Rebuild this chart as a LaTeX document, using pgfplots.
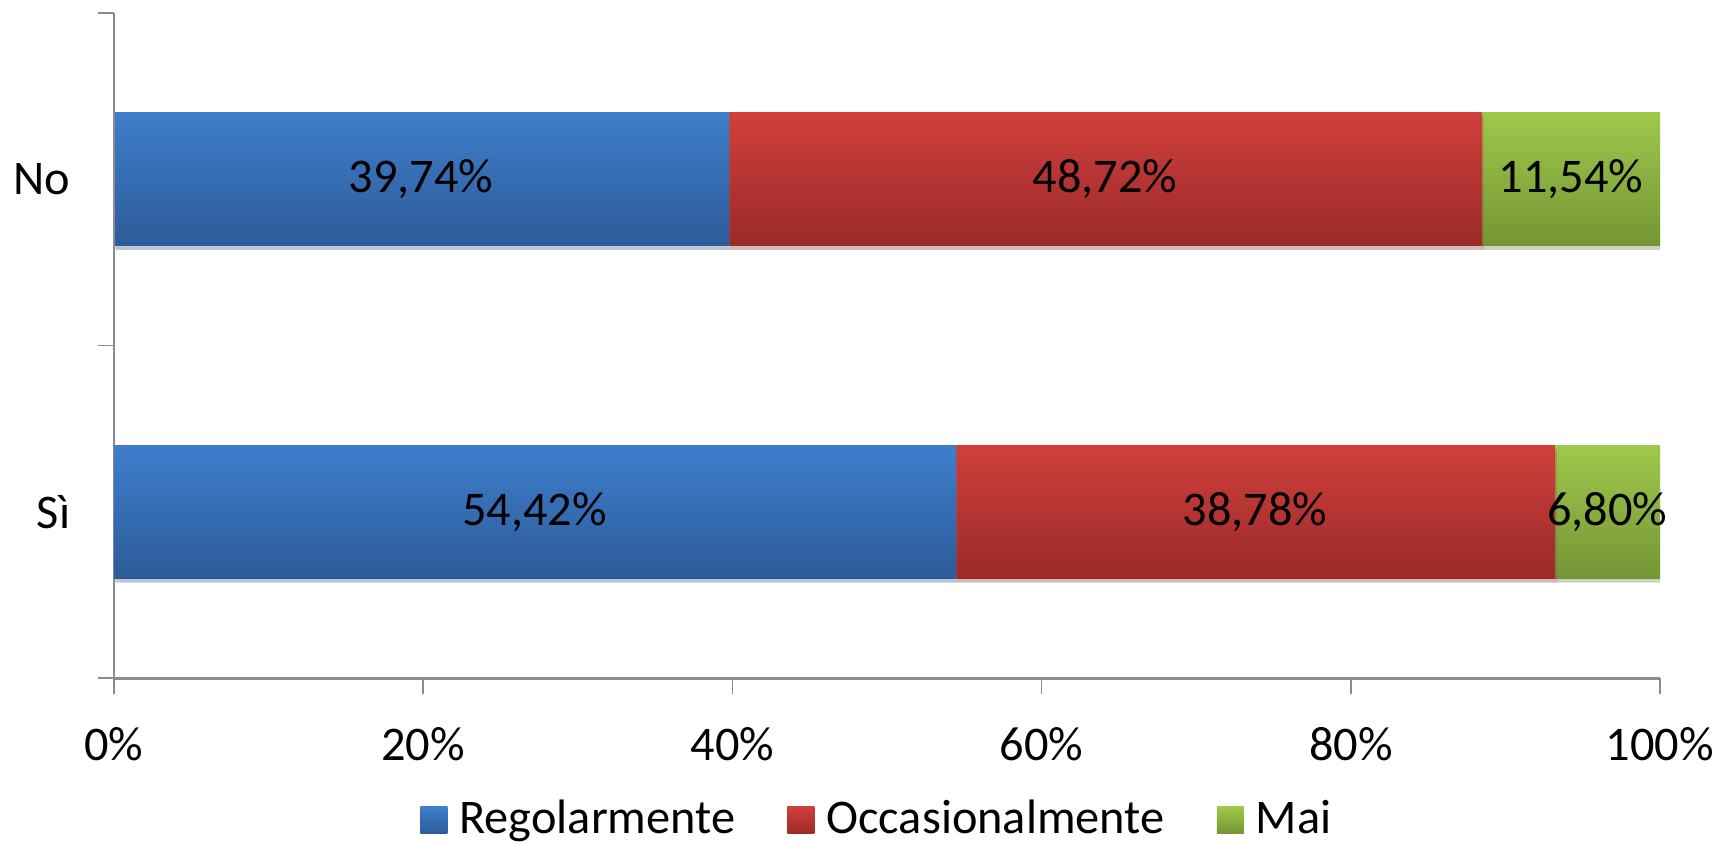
\documentclass[border=0pt]{standalone}
\usepackage{pgfplots}
\pgfplotsset{compat=1.18}
\usepackage{fontspec}
\setmainfont{Carlito}
\usetikzlibrary{shadows}
\definecolor{bluetop}{HTML}{3E7ECC}
\definecolor{bluebot}{HTML}{2D5B99}
\definecolor{redtop}{HTML}{D03F3C}
\definecolor{redbot}{HTML}{9A2A29}
\definecolor{greentop}{HTML}{9FC84B}
\definecolor{greenbot}{HTML}{749535}
\definecolor{axgray}{HTML}{8C8C8C}
\newcommand\fs{\fontsize{14.5}{17.4}\selectfont}
\pgfplotsset{
  base/.style={
    scale only axis,
    width=463.8pt, height=199.5pt,
    xmin=0, xmax=100, ymin=0.5, ymax=2.5,
    stack plots=x,
    bar width=0.4,
  },
  barshadow/.style={drop shadow={opacity=0.22, shadow xshift=0.5pt, shadow yshift=-1.2pt}},
}
\begin{document}
\fs
\begin{tikzpicture}
% "No" row
\begin{axis}[base, hide axis]
\addplot[xbar, draw=none, top color=bluetop, bottom color=bluebot, barshadow] coordinates {(39.74,2)};
\addplot[xbar, draw=none, top color=redtop, bottom color=redbot, barshadow] coordinates {(48.72,2)};
\addplot[xbar, draw=none, top color=greentop, bottom color=greenbot, barshadow] coordinates {(11.54,2)};
\end{axis}
% "Sì" row, axes, labels, legend
\begin{axis}[
  base,
  name=ax,
  axis lines*=left,
  axis line style={axgray, -},
  x axis line style={line width=0.9pt},
  y axis line style={line width=0.5pt},
  tick align=outside,
  major tick length=4.7pt,
  xtick={0,20,40,60,80,100},
  xticklabels={0\%,20\%,40\%,60\%,80\%,100\%},
  xtick style={draw=axgray, line width=0.45pt},
  xticklabel style={yshift=-5pt},
  ytick={1,2},
  yticklabels={Sì,No},
  ytick style={draw=none},
  yticklabel style={xshift=-3.4pt},
  extra y ticks={0.5,1.5,2.5},
  extra y tick labels={},
  extra y tick style={ytick style={draw=axgray, line width=0.45pt}},
  tick label style={font=\fs},
  legend style={at={(0.495,-0.214)}, anchor=center, draw=none, fill=none,
    legend columns=3, font=\fs,
    /tikz/every odd column/.append style={column sep=1.6pt},
    /tikz/every even column/.append style={column sep=13.7pt}},
  legend cell align=left,
]
\addplot[xbar, draw=none, top color=bluetop, bottom color=bluebot, barshadow, forget plot] coordinates {(54.42,1)};
\addplot[xbar, draw=none, top color=redtop, bottom color=redbot, barshadow, forget plot] coordinates {(38.78,1)};
\addplot[xbar, draw=none, top color=greentop, bottom color=greenbot, barshadow, forget plot] coordinates {(6.80,1)};
\addlegendimage{legend image code/.code={\path[draw=none, top color=bluetop, bottom color=bluebot] (0pt,-4.05pt) rectangle (8.1pt,4.05pt);}}
\addlegendimage{legend image code/.code={\path[draw=none, top color=redtop, bottom color=redbot] (0pt,-4.05pt) rectangle (8.1pt,4.05pt);}}
\addlegendimage{legend image code/.code={\path[draw=none, top color=greentop, bottom color=greenbot] (0pt,-4.05pt) rectangle (8.1pt,4.05pt);}}
\legend{Regolarmente,Occasionalmente,Mai}
\addplot[stack plots=false, forget plot, draw=none, mark=none, nodes near coords, point meta=explicit symbolic,
  every node near coord/.append style={anchor=center, text=black, font=\fs}]
  coordinates {(27.21,1) [54,42\%] (73.81,1) [38,78\%] (96.60,1) [6,80\%]
               (19.87,2) [39,74\%] (64.10,2) [48,72\%] (94.23,2) [11,54\%]};
\end{axis}
\pgfresetboundingbox
\path[use as bounding box] (ax.south west) ++(-34.2pt,-49.5pt) rectangle ++(515.1pt,252.9pt);
\end{tikzpicture}
\end{document}
